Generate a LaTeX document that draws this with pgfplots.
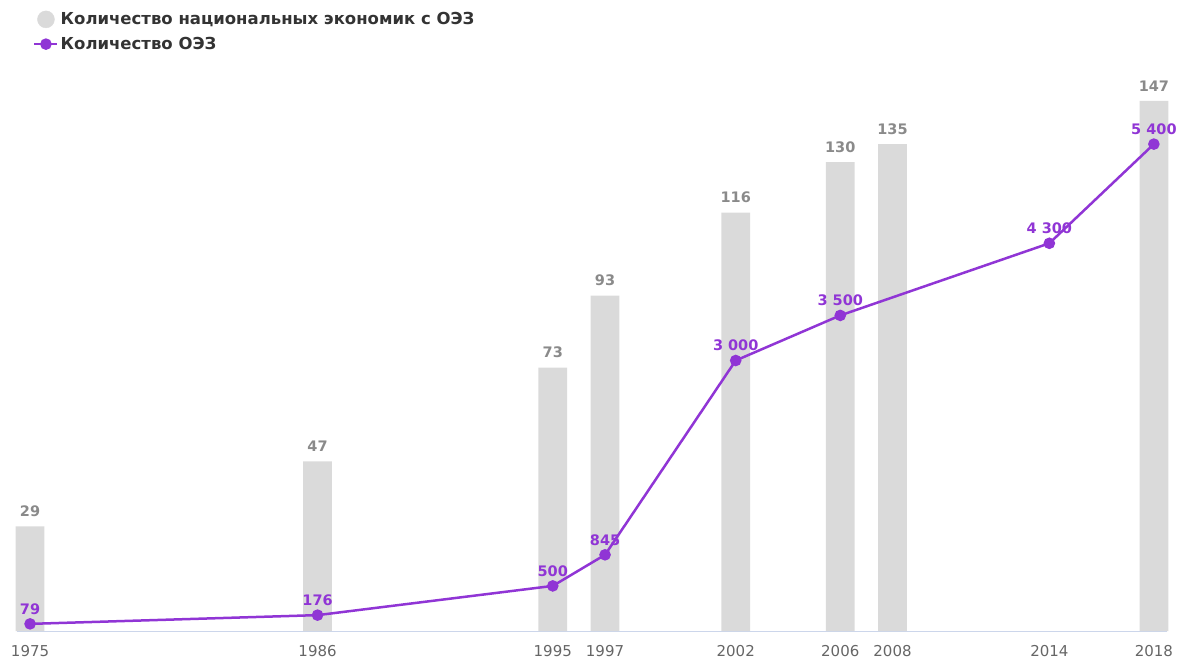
\documentclass[border=0pt]{standalone}
\usepackage{fontspec}
\setmainfont{DejaVu Sans}
\usepackage{pgfplots}
\pgfplotsset{compat=1.18}
\definecolor{barfill}{HTML}{DADADA}
\definecolor{sezline}{HTML}{9035D5}
\definecolor{barlab}{HTML}{8A8A8A}
\definecolor{ticklab}{HTML}{666666}
\definecolor{axisline}{HTML}{CCD6EB}
\definecolor{legtext}{HTML}{333333}

\pgfplotsset{
  chartbase/.style={
    scale only axis, width=1150pt, height=541pt,
    at={(17pt,31pt)}, anchor=south west,
    xmin=1974.5, xmax=2018.5, ymin=0,
    clip=false,
  },
}

\begin{document}
\begin{tikzpicture}
\useasboundingbox (0,0) rectangle (1178pt,662pt);

% bars: number of national economies with SEZ
\begin{axis}[chartbase, ymax=150,
  axis x line*=bottom, axis y line=none,
  x axis line style={axisline, line width=1pt, -},
  xtick={1975,1986,1995,1997,2002,2006,2008,2014,2018},
  xticklabels={1975,1986,1995,1997,2002,2006,2008,2014,2018},
  major tick length=0pt,
  xticklabel style={font=\fontsize{15}{18}\selectfont, text=ticklab, yshift=-11pt},
  ybar, bar width=1.1,
  nodes near coords,
  every node near coord/.append style={font=\bfseries\fontsize{14.5}{17}\selectfont,
    text=barlab, yshift=6pt, /pgf/number format/assume math mode=true},
]
\addplot[fill=barfill, draw=none] coordinates {
  (1975,29) (1986,47) (1995,73) (1997,93) (2002,116)
  (2006,130) (2008,135) (2018,147)
};
\end{axis}

% line: number of SEZ
\begin{axis}[chartbase, ymax=6000, hide axis,
  legend image code/.code={\draw[mark repeat=2,mark phase=2,#1]
    plot coordinates {(0pt,0pt) (11.5pt,0pt) (23pt,0pt)};},
  legend cell align=left,
  legend style={draw=none, fill=none, at={(0.0113,1.151)}, anchor=north west,
    font=\bfseries\fontsize{16.5}{19}\selectfont, text=legtext, row sep=7pt},
]
\addlegendimage{only marks, mark=*, mark size=8.5pt, barfill}
\addlegendimage{sezline, line width=2.5pt, mark=*, mark size=4.5pt, mark options={solid}}
\addplot[sezline, line width=2.5pt, mark=*, mark size=4.5pt, forget plot,
  nodes near coords={\pgfmathprintnumber[fixed, precision=0, assume math mode=true,
    1000 sep={\ }]{\pgfplotspointmeta}},
  every node near coord/.append style={font=\bfseries\fontsize{14.5}{17}\selectfont,
    text=sezline, yshift=5pt},
] coordinates {
  (1975,79) (1986,176) (1995,500) (1997,845) (2002,3000)
  (2006,3500) (2014,4300) (2018,5400)
};
\legend{Количество национальных экономик с ОЭЗ, Количество ОЭЗ}
\end{axis}
\end{tikzpicture}
\end{document}
